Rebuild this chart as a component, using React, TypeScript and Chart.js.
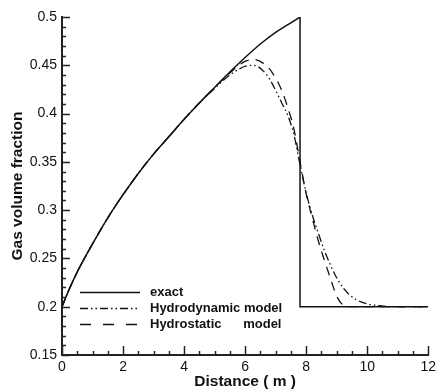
import React, { useEffect, useRef } from 'react';
import { Chart, registerables } from 'chart.js';

Chart.register(...registerables);

// ---- data ----
// exact solution: smooth rise, then the jump at x = 7.8 and the flat tail
const exactRiseX = [0, 0.25, 0.5, 1, 1.5, 2, 2.5, 3, 3.5, 4, 4.5, 5, 5.5, 6, 6.5, 7, 7.5, 7.8];
const exactRiseY = [0.2, 0.219, 0.236, 0.265, 0.292, 0.316, 0.338, 0.358, 0.376, 0.394, 0.411, 0.427, 0.443, 0.458, 0.472, 0.484, 0.494, 0.5];
const exactJumpX = [7.8, 7.8, 12];
const exactJumpY = [0.5, 0.2, 0.2];

const hydroDynX = [0, 0.25, 0.5, 1, 1.5, 2, 2.5, 3, 3.5, 4, 4.5, 5, 5.5, 5.8, 6.0, 6.2, 6.4, 6.6, 6.8, 7.0, 7.2, 7.4, 7.6, 7.8, 8.0, 8.2, 8.4, 8.6, 8.8, 9.0, 9.2, 9.4, 9.6, 9.8, 10, 10.4, 10.8, 12];
const hydroDynY = [0.2, 0.219, 0.236, 0.265, 0.292, 0.316, 0.338, 0.358, 0.376, 0.394, 0.411, 0.426, 0.44, 0.446, 0.449, 0.45, 0.449, 0.444, 0.436, 0.424, 0.411, 0.398, 0.378, 0.347, 0.318, 0.295, 0.276, 0.258, 0.243, 0.23, 0.22, 0.213, 0.208, 0.205, 0.203, 0.201, 0.2, 0.2];

const hydroStatX = [0, 0.25, 0.5, 1, 1.5, 2, 2.5, 3, 3.5, 4, 4.5, 5, 5.5, 5.8, 6.0, 6.3, 6.6, 6.9, 7.2, 7.4, 7.6, 7.8, 8.0, 8.2, 8.4, 8.6, 8.8, 9.0, 9.2, 9.4, 12];
const hydroStatY = [0.2, 0.219, 0.236, 0.265, 0.292, 0.316, 0.338, 0.358, 0.376, 0.394, 0.411, 0.427, 0.442, 0.45, 0.454, 0.456, 0.452, 0.442, 0.424, 0.406, 0.384, 0.35, 0.317, 0.292, 0.268, 0.248, 0.229, 0.211, 0.202, 0.2, 0.2];

const seriesLabels = ['exact', 'Hydrodynamic model', 'Hydrostatic      model'];

const xTickValues = [0, 2, 4, 6, 8, 10, 12];
const xTickLabels = ['0', '2', '4', '6', '8', '10', '12'];
const yTickValues = [0.15, 0.2, 0.25, 0.3, 0.35, 0.4, 0.45, 0.5];
const yTickLabels = ['0.15', '0.2', '0.25', '0.3', '0.35', '0.4', '0.45', '0.5'];

const FONT = "'Liberation Sans', Arial, sans-serif";
const DASH_DOT_DOT = [8, 3, 1.5, 3, 1.5, 3];
const DASHED = [9, 7];

const toPoints = (xs: number[], ys: number[]) => xs.map((x, i) => ({ x, y: ys[i] }));

const decorPlugin = {
  id: 'decor',
  afterDraw(chart: any) {
    const ctx = chart.ctx as CanvasRenderingContext2D;
    const xs = chart.scales.x;
    const ys = chart.scales.y;
    const { left, bottom } = chart.chartArea;
    ctx.save();
    ctx.strokeStyle = '#222';
    ctx.lineWidth = 1.5;
    // y ticks (inward), minor every 0.01
    for (let i = 0; i <= 35; i++) {
      const v = 0.15 + i * 0.01;
      const py = Math.round(ys.getPixelForValue(v)) + 0.5;
      const len = i % 5 === 0 ? 8 : 4;
      ctx.beginPath();
      ctx.moveTo(left, py);
      ctx.lineTo(left + len, py);
      ctx.stroke();
    }
    // x ticks (inward), minor every 0.5
    for (let i = 0; i <= 24; i++) {
      const v = i * 0.5;
      const px = Math.round(xs.getPixelForValue(v)) + 0.5;
      const len = i % 4 === 0 ? 9 : 4;
      ctx.beginPath();
      ctx.moveTo(px, bottom);
      ctx.lineTo(px, bottom - len);
      ctx.stroke();
    }
    // legend
    const items = [
      { label: seriesLabels[0], dash: [] as number[], y: 292.5, w: 1.5 },
      { label: seriesLabels[1], dash: DASH_DOT_DOT, y: 308.5, w: 1.4 },
      { label: seriesLabels[2], dash: [11, 12], y: 324.5, w: 1.4 },
    ];
    ctx.font = `bold 13px ${FONT}`;
    ctx.fillStyle = '#111';
    ctx.textBaseline = 'middle';
    ctx.textAlign = 'left';
    for (const it of items) {
      ctx.strokeStyle = '#111';
      ctx.lineWidth = it.w;
      ctx.setLineDash(it.dash);
      ctx.beginPath();
      ctx.moveTo(80, it.y);
      ctx.lineTo(140, it.y);
      ctx.stroke();
      ctx.setLineDash([]);
      ctx.fillText(it.label, 150, it.y);
    }
    ctx.restore();
  },
};

export default function App() {
  const ref = useRef<HTMLCanvasElement | null>(null);
  useEffect(() => {
    if (!ref.current) return;
    const chart = new Chart(ref.current, {
      type: 'line',
      data: {
        datasets: [
          {
            label: seriesLabels[0],
            data: toPoints(exactRiseX, exactRiseY),
            borderColor: '#111',
            borderWidth: 1.5,
            pointRadius: 0,
            cubicInterpolationMode: 'monotone',
            fill: false,
          },
          {
            label: seriesLabels[0] + ' (jump)',
            data: toPoints(exactJumpX, exactJumpY),
            borderColor: '#111',
            borderWidth: 1.5,
            pointRadius: 0,
            tension: 0,
            fill: false,
          },
          {
            label: seriesLabels[1],
            data: toPoints(hydroDynX, hydroDynY),
            borderColor: '#111',
            borderWidth: 1.3,
            borderDash: DASH_DOT_DOT,
            pointRadius: 0,
            cubicInterpolationMode: 'monotone',
            fill: false,
          },
          {
            label: seriesLabels[2],
            data: toPoints(hydroStatX, hydroStatY),
            borderColor: '#111',
            borderWidth: 1.3,
            borderDash: DASHED,
            pointRadius: 0,
            cubicInterpolationMode: 'monotone',
            fill: false,
          },
        ],
      },
      options: {
        animation: false,
        responsive: false,
        devicePixelRatio: 1,
        layout: { padding: { top: 17, right: 9, left: 0, bottom: 0 } },
        plugins: { legend: { display: false }, tooltip: { enabled: false } },
        scales: {
          x: {
            type: 'linear',
            min: 0,
            max: 12,
            afterFit: (s: any) => { s.height = 34; },
            afterBuildTicks: (s: any) => { s.ticks = xTickValues.map((v) => ({ value: v })); },
            grid: { display: false, drawTicks: false },
            border: { display: true, color: '#222', width: 2 },
            ticks: {
              padding: 4,
              color: '#111',
              font: { family: FONT, size: 14 },
              maxRotation: 0,
              callback: (v: any) => {
                const i = xTickValues.findIndex((t) => Math.abs(t - Number(v)) < 1e-6);
                return i >= 0 ? xTickLabels[i] : '';
              },
            },
            title: {
              display: true,
              text: 'Distance ( m )',
              color: '#111',
              font: { family: FONT, size: 15.5, weight: 'bold', lineHeight: 1 },
              padding: { top: 0, bottom: 0 },
            },
          },
          y: {
            type: 'linear',
            min: 0.15,
            max: 0.5,
            afterFit: (s: any) => { s.width = 62; },
            afterBuildTicks: (s: any) => { s.ticks = yTickValues.map((v) => ({ value: v })); },
            grid: { display: false, drawTicks: false },
            border: { display: true, color: '#222', width: 2 },
            ticks: {
              padding: 5,
              color: '#111',
              font: { family: FONT, size: 14 },
              callback: (v: any) => {
                const i = yTickValues.findIndex((t) => Math.abs(t - Number(v)) < 1e-6);
                return i >= 0 ? yTickLabels[i] : '';
              },
            },
            title: {
              display: true,
              text: 'Gas volume fraction',
              color: '#111',
              font: { family: FONT, size: 15.5, weight: 'bold', lineHeight: 1 },
              padding: { top: 10, bottom: 0 },
            },
          },
        },
      },
      plugins: [decorPlugin],
    } as any);
    return () => chart.destroy();
  }, []);
  return (
    <div style={{ position: 'fixed', left: 0, top: 0, width: 440, height: 389, background: '#fff' }}>
      <canvas ref={ref} width={440} height={389} style={{ display: 'block', width: 440, height: 389 }} />
    </div>
  );
}
